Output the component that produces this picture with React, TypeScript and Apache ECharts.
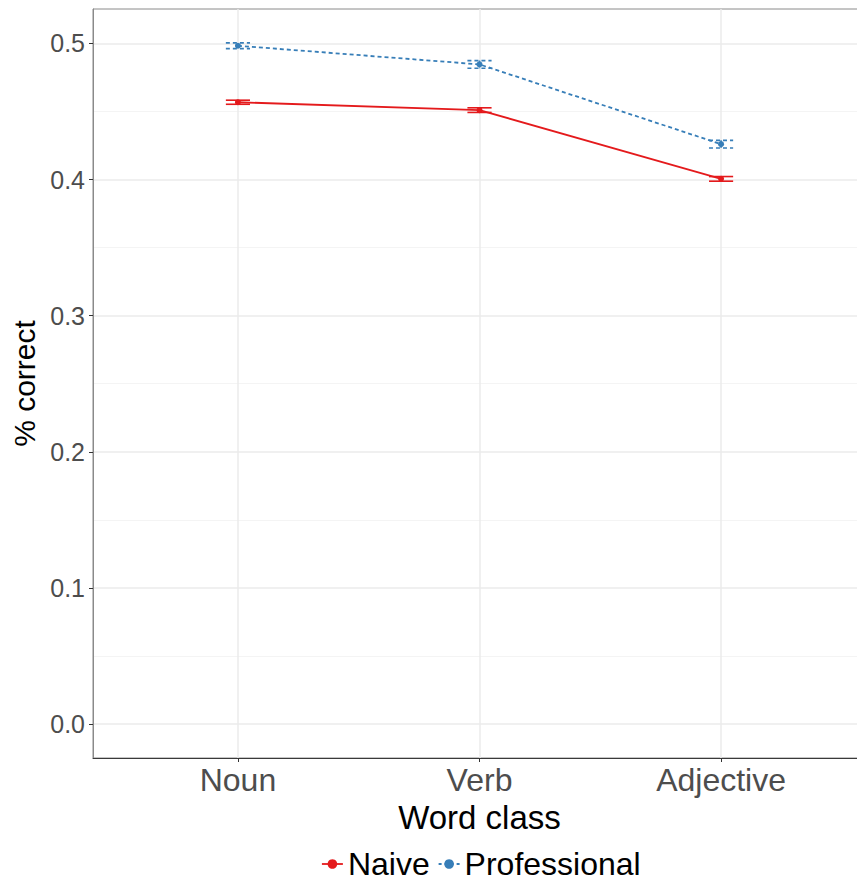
import React, { useEffect, useRef } from "react";
import * as echarts from "echarts";

const categories = ["Noun", "Verb", "Adjective"];
const naiveValues = [0.4568, 0.451, 0.4005];
const naiveErrors = [0.0015, 0.0017, 0.0017];
const professionalValues = [0.4983, 0.4846, 0.426];
const professionalErrors = [0.0021, 0.0028, 0.0028];
const yTicks = [0, 0.1, 0.2, 0.3, 0.4, 0.5];
const yMinorTicks = [0.05, 0.15, 0.25, 0.35, 0.45];

const RED = "#E41A1C";
const BLUE = "#377EB8";
const FONT = "Liberation Sans";

function errorSeries(name: string, values: number[], errors: number[], color: string, dash: number[] | null) {
  return {
    type: "custom",
    name: name + " err",
    silent: true,
    z: 3,
    data: values.map((v, i) => [i + 1, v - errors[i], v + errors[i]]),
    renderItem: (params: any, api: any) => {
      const x = api.value(0);
      const lo = api.value(1);
      const hi = api.value(2);
      const w = 0.05;
      const a1 = api.coord([x - w, hi]);
      const a2 = api.coord([x + w, hi]);
      const b1 = api.coord([x - w, lo]);
      const b2 = api.coord([x + w, lo]);
      const c1 = api.coord([x, hi]);
      const c2 = api.coord([x, lo]);
      const style: any = { stroke: color, lineWidth: 1.6, fill: null };
      if (dash) style.lineDash = dash;
      return {
        type: "group",
        children: [
          { type: "line", shape: { x1: a1[0], y1: a1[1], x2: a2[0], y2: a2[1] }, style },
          { type: "line", shape: { x1: b1[0], y1: b1[1], x2: b2[0], y2: b2[1] }, style },
          { type: "line", shape: { x1: c1[0], y1: c1[1], x2: c2[0], y2: c2[1] }, style },
        ],
      };
    },
  };
}

export default function App() {
  const ref = useRef<HTMLDivElement>(null);
  useEffect(() => {
    if (!ref.current) return;
    const chart = echarts.init(ref.current, null, { renderer: "svg" });
    const option: any = {
      animation: false,
      backgroundColor: "#ffffff",
      textStyle: { fontFamily: FONT },
      grid: {
        left: 93,
        top: 9,
        width: 773,
        height: 749,
        containLabel: false,
        outerBoundsMode: "none",
        show: true,
        borderColor: "#8a8a8a",
        borderWidth: 1,
        backgroundColor: "transparent",
      },
      legend: {
        left: 321,
        top: 848,
        padding: 0,
        itemWidth: 21,
        itemHeight: 12,
        itemGap: 8,
        data: [
          { name: "Naive", lineStyle: { type: "solid", width: 1.8 } },
          { name: "Professional", lineStyle: { type: [3, 3], width: 1.8 } },
        ],
        textStyle: { fontSize: 32, color: "#000000", fontFamily: FONT },
      },
      xAxis: [
        {
          type: "value",
          min: 0.4,
          max: 3.6,
          name: "Word class",
          nameLocation: "middle",
          nameGap: 38,
          nameTextStyle: { fontSize: 33, color: "#000000", fontFamily: FONT },
          axisLine: { show: true, onZero: false, lineStyle: { color: "#3a3a3a", width: 1 } },
          axisTick: { show: true, length: 4, customValues: [1, 2, 3], lineStyle: { color: "#333333" } },
          axisLabel: {
            customValues: [1, 2, 3],
            margin: 6,
            fontSize: 32,
            color: "#4D4D4D",
            fontFamily: FONT,
            formatter: (v: number) => categories[Math.round(v) - 1] ?? "",
          },
          splitLine: { show: true, lineStyle: { color: "#EBEBEB", width: 1.5 } },
        },
      ],
      yAxis: [
        {
          type: "value",
          min: -0.025,
          max: 0.5253,
          name: "% correct",
          nameLocation: "middle",
          nameGap: 48,
          nameTextStyle: { fontSize: 30, color: "#000000", fontFamily: FONT },
          axisLine: { show: true, onZero: false, lineStyle: { color: "#8a8a8a", width: 1 } },
          axisTick: { show: true, length: 4, customValues: yTicks, lineStyle: { color: "#333333" } },
          axisLabel: {
            customValues: yTicks,
            margin: 8,
            fontSize: 25,
            color: "#4D4D4D",
            fontFamily: FONT,
            formatter: (v: number) => v.toFixed(1),
          },
          splitLine: { show: true, lineStyle: { color: "#EBEBEB", width: 1.5 } },
        },
        {
          type: "value",
          min: -0.025,
          max: 0.5253,
          position: "left",
          axisLine: { show: false, onZero: false },
          axisTick: { show: false, customValues: yMinorTicks },
          axisLabel: { show: false, customValues: yMinorTicks },
          splitLine: { show: true, lineStyle: { color: "#F4F4F4", width: 1 } },
        },
      ],
      series: [
        errorSeries("Naive", naiveValues, naiveErrors, RED, null),
        errorSeries("Professional", professionalValues, professionalErrors, BLUE, [4, 3]),
        {
          type: "line",
          name: "Naive",
          z: 4,
          clip: false,
          data: naiveValues.map((v, i) => [i + 1, v]),
          symbol: "circle",
          symbolSize: 6,
          itemStyle: { color: RED },
          lineStyle: { color: RED, width: 1.8 },
        },
        {
          type: "line",
          name: "Professional",
          z: 4,
          clip: false,
          data: professionalValues.map((v, i) => [i + 1, v]),
          symbol: "circle",
          symbolSize: 6,
          itemStyle: { color: BLUE },
          lineStyle: { color: BLUE, width: 1.8, type: [4, 3] },
        },
      ],
    };
    chart.setOption(option);
    return () => chart.dispose();
  }, []);
  return (
    <div
      ref={ref}
      style={{ position: "absolute", left: 0, top: 0, width: 857, height: 884 }}
    />
  );
}
